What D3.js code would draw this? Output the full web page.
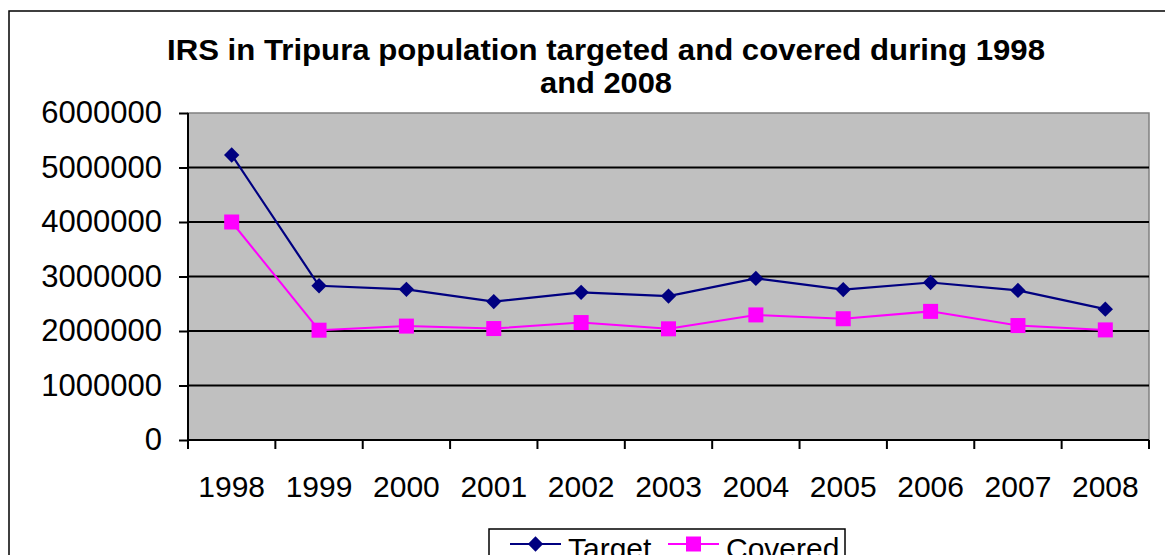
<!DOCTYPE html>
<html><head><meta charset="utf-8">
<script src="https://cdn.jsdelivr.net/npm/d3@7"></script>
<style>body{margin:0;background:#fff;}svg{display:block;font-family:"Liberation Sans",Arial,sans-serif;}</style>
</head><body><svg id="c" width="1165" height="555"></svg>
<script>
const years = ["1998","1999","2000","2001","2002","2003","2004","2005","2006","2007","2008"];
const target = [5230000,2830000,2765000,2540000,2710000,2640000,2965000,2760000,2890000,2745000,2400000];
const covered = [4000000,2015000,2090000,2045000,2155000,2040000,2295000,2225000,2360000,2100000,2020000];
const yTicks = [0,1000000,2000000,3000000,4000000,5000000,6000000];
const titleLines = ["IRS in Tripura population targeted and covered during 1998","and 2008"];
const seriesNames = ["Target","Covered"];

const svg = d3.select("#c");
const L=188, R=1149, T=113, B=440;
const x = d3.scaleBand().domain(years).range([L,R]).padding(0);
const y = d3.scaleLinear().domain([0,6000000]).range([B,T]);

// outer border
svg.append("rect").attr("x",9).attr("y",11).attr("width",1170).attr("height",600)
  .attr("fill","none").attr("stroke","#000").attr("stroke-width",1.5);

// title
const titleLens = [878, 132];
svg.append("g").selectAll("text").data(titleLines).join("text")
  .attr("x",606).attr("y",(d,i)=>60+i*33).attr("text-anchor","middle")
  .attr("font-weight","bold").attr("font-size",29).attr("fill","#000")
  .attr("textLength",(d,i)=>titleLens[i]).attr("lengthAdjust","spacingAndGlyphs").text(d=>d);

// plot background
svg.append("rect").attr("x",L).attr("y",T).attr("width",R-L).attr("height",B-T)
  .attr("fill","#c0c0c0").attr("stroke","#808080").attr("stroke-width",1.5);

// gridlines
svg.append("g").selectAll("line").data(yTicks.filter(v=>v>0 && v<6000000)).join("line")
  .attr("x1",L).attr("x2",R).attr("y1",d=>y(d)).attr("y2",d=>y(d))
  .attr("stroke","#000").attr("stroke-width",1.8);

// y axis
const yAxis = d3.axisLeft(y).tickValues(yTicks).tickFormat(d3.format("d")).tickSize(9).tickPadding(17);
const gy = svg.append("g").attr("transform",`translate(${L},0)`).call(yAxis);
gy.select(".domain").attr("stroke","#000").attr("stroke-width",2).attr("d",`M0,${T}V${B}`);
gy.selectAll(".tick line").attr("stroke","#000").attr("stroke-width",2);
gy.selectAll("text").attr("font-size",31).attr("fill","#000").attr("font-family","Liberation Sans, Arial, sans-serif");

// x axis
const xAxis = d3.axisBottom(x).tickSize(0).tickPadding(36);
const gx = svg.append("g").attr("transform",`translate(0,${B})`).call(xAxis);
gx.select(".domain").attr("stroke","#000").attr("stroke-width",2).attr("d",`M${L},0H${R}`);
gx.selectAll("text").attr("font-size",30).attr("fill","#000").attr("font-family","Liberation Sans, Arial, sans-serif");
// tick marks at band boundaries
const bounds = years.map(d=>x(d)).concat([x(years[years.length-1])+x.bandwidth()]);
svg.append("g").selectAll("line").data(bounds).join("line")
  .attr("x1",d=>d).attr("x2",d=>d).attr("y1",B).attr("y2",B+9)
  .attr("stroke","#000").attr("stroke-width",2);

const cx = d=>x(d)+x.bandwidth()/2;
const line = d3.line().x((d,i)=>cx(years[i])).y(d=>y(d));

svg.append("path").datum(target).attr("d",line).attr("fill","none").attr("stroke","#000080").attr("stroke-width",2.2);
svg.append("path").datum(covered).attr("d",line).attr("fill","none").attr("stroke","#ff00ff").attr("stroke-width",2);

const diamond = d3.symbol().type(d3.symbolDiamond2).size(150);
svg.append("g").selectAll("path").data(target).join("path")
  .attr("d",diamond).attr("transform",(d,i)=>`translate(${cx(years[i])},${y(d)})`)
  .attr("fill","#000080");
svg.append("g").selectAll("rect").data(covered).join("rect")
  .attr("x",(d,i)=>cx(years[i])-7.5).attr("y",d=>y(d)-7.5).attr("width",15).attr("height",15)
  .attr("fill","#ff00ff");

// legend
const lg = svg.append("g");
lg.append("rect").attr("x",489).attr("y",529).attr("width",356).attr("height",60)
  .attr("fill","#fff").attr("stroke","#000").attr("stroke-width",1.5);
const items = [{name:seriesNames[0],color:"#000080",x0:510},{name:seriesNames[1],color:"#ff00ff",x0:668}];
items.forEach((it,i)=>{
  lg.append("line").attr("x1",it.x0).attr("x2",it.x0+51).attr("y1",544).attr("y2",544)
    .attr("stroke",it.color).attr("stroke-width",2);
  if(i===0){
    lg.append("path").attr("d",diamond).attr("transform",`translate(${it.x0+25.5},544)`).attr("fill",it.color);
  } else {
    lg.append("rect").attr("x",it.x0+18).attr("y",536.5).attr("width",15).attr("height",15).attr("fill",it.color);
  }
  lg.append("text").attr("x",it.x0+58).attr("y",559).attr("font-size",30).attr("fill","#000").text(it.name);
});
</script></body></html>
